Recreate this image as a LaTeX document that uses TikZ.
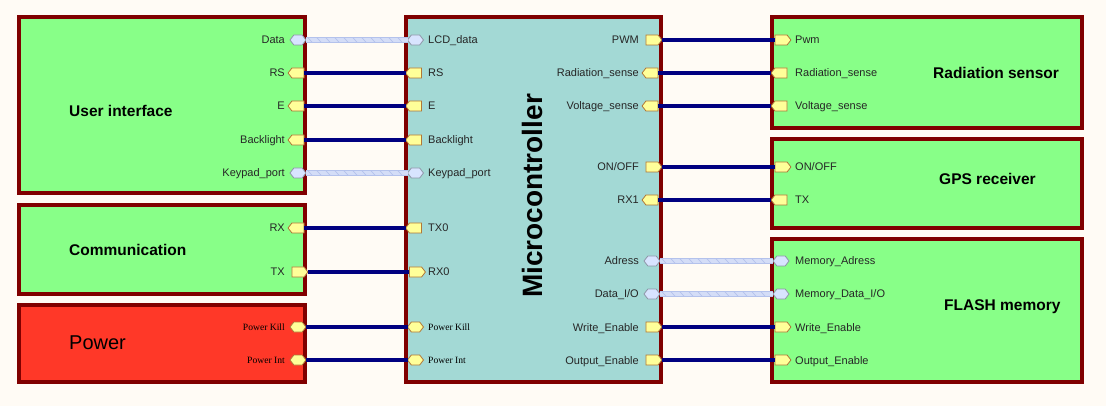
\documentclass[tikz,border=0pt]{standalone}
\usepackage{fontspec}
\setmainfont{Liberation Sans}
\newfontfamily\serifport{Liberation Serif}
\usetikzlibrary{shapes.symbols,decorations.markings}
\definecolor{bg}{HTML}{FFFBF5}
\definecolor{boxgreen}{HTML}{88FF88}
\definecolor{boxred}{HTML}{FF3828}
\definecolor{boxteal}{HTML}{A3D9D5}
\definecolor{boxborder}{HTML}{800000}
\definecolor{sigline}{HTML}{000080}
\definecolor{portyellow}{HTML}{FFFF99}
\definecolor{portedge}{HTML}{B07838}
\definecolor{busport}{HTML}{D8E4FF}
\definecolor{busportedge}{HTML}{8E96A8}
\definecolor{busfill}{HTML}{D4DDF7}
\definecolor{busedge}{HTML}{B4C2EC}
\begin{document}
\begin{tikzpicture}[x=1pt,y=-1pt,
  block/.style={draw=boxborder, line width=4pt, anchor=north west, inner sep=0pt, outer sep=0pt},
  port/.style={shape=signal, draw=portedge, fill=portyellow, line width=0.8pt, minimum width=16pt, minimum height=10pt, inner sep=0pt, outer sep=0pt, signal pointer angle=105},
  pW/.style={port, signal to=west},
  pE/.style={port, signal to=east},
  pH/.style={port, signal to=west and east},
  pB/.style={port, draw=busportedge, fill=busport, signal to=west and east},
  plbl/.style={font=\fontsize{11}{13}\selectfont, inner sep=0pt, text=black!85},
  slbl/.style={font=\serifport\fontsize{9.6}{11}\selectfont, inner sep=0pt},
  ttl/.style={font=\bfseries\fontsize{15.5}{18}\selectfont, inner sep=0pt},
  sigwire/.style={draw=sigline, line width=4pt},
  buswire/.style={draw=busedge, line width=5.5pt,
    postaction={draw=busfill, line width=3.5pt},
    postaction={decorate, decoration={markings,
      mark=between positions 4pt and -4pt step 9pt with {\draw[busedge, line width=0.7pt] (-2pt,2.2pt) -- (2pt,-2.2pt);}}}}
]
\fill[bg] (0,0) rectangle (1106,406);
\useasboundingbox (0,0) rectangle (1106,406);

% blocks
\node[block, fill=boxgreen, minimum width=286pt, minimum height=176pt] (ui) at (19,17) {};
\node[block, fill=boxgreen, minimum width=286pt, minimum height=89pt] (comm) at (19,205) {};
\node[block, fill=boxred, minimum width=286pt, minimum height=77pt] (pwr) at (19,305) {};
\node[block, fill=boxteal, minimum width=255pt, minimum height=365pt] (mcu) at (406,17) {};
\node[block, fill=boxgreen, minimum width=310pt, minimum height=111pt] (rad) at (772,17) {};
\node[block, fill=boxgreen, minimum width=310pt, minimum height=89pt] (gps) at (772,139) {};
\node[block, fill=boxgreen, minimum width=310pt, minimum height=143pt] (flash) at (772,239) {};

% titles
\node[ttl, anchor=base west] (tUI) at (69,116.5) {User interface};
\node[ttl, anchor=base west] (tComm) at (69,255.5) {Communication};
\node[font=\fontsize{20}{24}\selectfont, inner sep=0pt, anchor=base west] (tPwr) at (69,349.5) {Power};
\node[font=\bfseries\fontsize{28}{32}\selectfont, inner sep=0pt, rotate=90] (tMcu) at (532,196) {Microcontroller};
\node[ttl, anchor=base west] (tRad) at (933,78.5) {Radiation sensor};
\node[ttl, anchor=base west] (tGps) at (939,184.5) {GPS receiver};
\node[ttl, anchor=base west] (tFlash) at (944,310.5) {FLASH memory};

% ports: left blocks
\node[pB] (a1) at (298,40) {};
\node[pW] (a2) at (298,73) {};
\node[pW] (a3) at (298,106) {};
\node[pW] (a4) at (298,140) {};
\node[pB] (a5) at (298,173) {};
\node[pW] (a6) at (298,228) {};
\node[pE] (a7) at (298,272) {};
\node[pH] (a8) at (298,327) {};
\node[pH] (a9) at (298,360) {};
% ports: micro left
\node[pB] (b1) at (415.5,40) {};
\node[pW] (b2) at (415.5,73) {};
\node[pW] (b3) at (415.5,106) {};
\node[pW] (b4) at (415.5,140) {};
\node[pB] (b5) at (415.5,173) {};
\node[pW] (b6) at (415.5,228) {};
\node[pE] (b7) at (415.5,272) {};
\node[pH] (b8) at (415.5,327) {};
\node[pH] (b9) at (415.5,360) {};
% ports: micro right
\node[pE] (c1) at (652,40) {};
\node[pW] (c2) at (652,73) {};
\node[pW] (c3) at (652,106) {};
\node[pE] (c4) at (652,167) {};
\node[pW] (c5) at (652,200) {};
\node[pB] (c6) at (652,261) {};
\node[pB] (c7) at (652,294) {};
\node[pE] (c8) at (652,327) {};
\node[pE] (c9) at (652,360) {};
% ports: right blocks
\node[pE] (d1) at (781,40) {};
\node[pW] (d2) at (781,73) {};
\node[pW] (d3) at (781,106) {};
\node[pE] (d4) at (781,167) {};
\node[pW] (d5) at (781,200) {};
\node[pB] (d6) at (781,261) {};
\node[pB] (d7) at (781,294) {};
\node[pE] (d8) at (781,327) {};
\node[pE] (d9) at (781,360) {};

% connectors
\draw[buswire] (a1.east) -- (b1.west);
\draw[sigwire] (a2.east) -- (b2.west);
\draw[sigwire] (a3.east) -- (b3.west);
\draw[sigwire] (a4.east) -- (b4.west);
\draw[buswire] (a5.east) -- (b5.west);
\draw[sigwire] (a6.east) -- (b6.west);
\draw[sigwire] (a7.east) -- (b7.west);
\draw[sigwire] (a8.east) -- (b8.west);
\draw[sigwire] (a9.east) -- (b9.west);
\draw[sigwire] (c1.east) -- (d1.west);
\draw[sigwire] (c2.east) -- (d2.west);
\draw[sigwire] (c3.east) -- (d3.west);
\draw[sigwire] (c4.east) -- (d4.west);
\draw[sigwire] (c5.east) -- (d5.west);
\draw[buswire] (c6.east) -- (d6.west);
\draw[buswire] (c7.east) -- (d7.west);
\draw[sigwire] (c8.east) -- (d8.west);
\draw[sigwire] (c9.east) -- (d9.west);

% labels: left blocks
\node[plbl, anchor=base east] (la1) at (285,44) {Data};
\node[plbl, anchor=base east] (la2) at (285,77) {RS};
\node[plbl, anchor=base east] (la3) at (285,110) {E};
\node[plbl, anchor=base east] (la4) at (285,144) {Backlight};
\node[plbl, anchor=base east] (la5) at (285,177) {Keypad\_port};
\node[plbl, anchor=base east] (la6) at (285,232) {RX};
\node[plbl, anchor=base east] (la7) at (285,276) {TX};
\node[slbl, anchor=base east] (la8) at (285,330.5) {Power Kill};
\node[slbl, anchor=base east] (la9) at (285,363.5) {Power Int};
% labels: micro left
\node[plbl, anchor=base west] (lb1) at (428,44) {LCD\_data};
\node[plbl, anchor=base west] (lb2) at (428,77) {RS};
\node[plbl, anchor=base west] (lb3) at (428,110) {E};
\node[plbl, anchor=base west] (lb4) at (428,144) {Backlight};
\node[plbl, anchor=base west] (lb5) at (428,177) {Keypad\_port};
\node[plbl, anchor=base west] (lb6) at (428,232) {TX0};
\node[plbl, anchor=base west] (lb7) at (428,276) {RX0};
\node[slbl, anchor=base west] (lb8) at (428,330.5) {Power Kill};
\node[slbl, anchor=base west] (lb9) at (428,363.5) {Power Int};
% labels: micro right
\node[plbl, anchor=base east] (lc1) at (639,44) {PWM};
\node[plbl, anchor=base east] (lc2) at (639,77) {Radiation\_sense};
\node[plbl, anchor=base east] (lc3) at (639,110) {Voltage\_sense};
\node[plbl, anchor=base east] (lc4) at (639,171) {ON/OFF};
\node[plbl, anchor=base east] (lc5) at (639,204) {RX1};
\node[plbl, anchor=base east] (lc6) at (639,265) {Adress};
\node[plbl, anchor=base east] (lc7) at (639,298) {Data\_I/O};
\node[plbl, anchor=base east] (lc8) at (639,331) {Write\_Enable};
\node[plbl, anchor=base east] (lc9) at (639,364) {Output\_Enable};
% labels: right blocks
\node[plbl, anchor=base west] (ld1) at (795,44) {Pwm};
\node[plbl, anchor=base west] (ld2) at (795,77) {Radiation\_sense};
\node[plbl, anchor=base west] (ld3) at (795,110) {Voltage\_sense};
\node[plbl, anchor=base west] (ld4) at (795,171) {ON/OFF};
\node[plbl, anchor=base west] (ld5) at (795,204) {TX};
\node[plbl, anchor=base west] (ld6) at (795,265) {Memory\_Adress};
\node[plbl, anchor=base west] (ld7) at (795,298) {Memory\_Data\_I/O};
\node[plbl, anchor=base west] (ld8) at (795,331) {Write\_Enable};
\node[plbl, anchor=base west] (ld9) at (795,364) {Output\_Enable};
\end{tikzpicture}
\end{document}
